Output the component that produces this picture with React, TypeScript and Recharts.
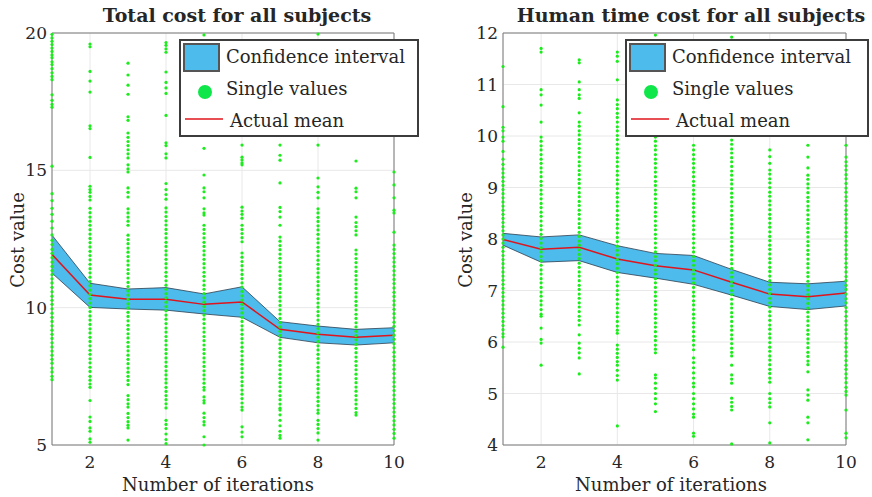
import React from 'react';
import {
  ComposedChart,
  Area,
  Line,
  Scatter,
  XAxis,
  YAxis,
  CartesianGrid,
  ReferenceArea,
} from 'recharts';

const FONT = '"DejaVu Serif", serif';

// iterations on the x axis
const iterations = [1, 2, 3, 4, 5, 6, 7, 8, 9, 10];

// total cost: confidence band + mean
const totalLower = [11.26, 10.01, 9.95, 9.91, 9.77, 9.65, 8.92, 8.72, 8.64, 8.72];
const totalMean = [11.94, 10.46, 10.31, 10.31, 10.12, 10.21, 9.21, 9.03, 8.92, 9.0];
const totalUpper = [12.64, 10.89, 10.68, 10.73, 10.5, 10.76, 9.49, 9.33, 9.21, 9.27];

// human time cost: confidence band + mean
const humanLower = [7.88, 7.55, 7.58, 7.35, 7.24, 7.12, 6.91, 6.69, 6.63, 6.7];
const humanMean = [7.99, 7.8, 7.84, 7.61, 7.48, 7.4, 7.16, 6.93, 6.88, 6.95];
const humanUpper = [8.11, 8.04, 8.08, 7.87, 7.72, 7.68, 7.41, 7.16, 7.13, 7.18];

// single values per iteration (total cost)
const totalSingles = [
  [19.95, 19.82, 19.7, 19.58, 19.45, 19.33, 19.2, 19.1, 18.95, 18.85, 18.7, 18.55, 18.42, 18.3, 17.75, 17.55, 17.4, 17.3, 15.15, 14.15, 13.9, 13.62, 13.4, 13.15, 12.9, 12.65, 12.45, 12.3, 12.12, 11.98, 11.82, 11.66, 11.5, 11.35, 11.2, 11.05, 10.9, 10.74, 10.58, 10.42, 10.27, 10.12, 9.96, 9.8, 9.65, 9.5, 9.34, 9.18, 9.03, 8.88, 8.72, 8.57, 8.42, 8.27, 8.12, 7.98, 7.8, 7.66, 7.5, 7.38],
  [19.6, 19.5, 18.6, 18.25, 17.85, 16.62, 16.52, 15.47, 14.42, 14.3, 14.2, 14.05, 13.92, 13.62, 13.46, 13.3, 13.15, 13.0, 12.84, 12.68, 12.52, 12.37, 12.21, 12.05, 11.9, 11.74, 11.58, 11.42, 11.27, 11.11, 10.95, 10.8, 10.64, 10.48, 10.33, 10.17, 10.01, 9.86, 9.7, 9.55, 9.39, 9.23, 9.08, 8.92, 8.77, 8.61, 8.45, 8.3, 8.14, 7.99, 7.83, 7.68, 7.5, 7.36, 7.22, 7.1, 6.62, 6.02, 5.86, 5.62, 5.5, 5.22, 5.1],
  [18.9, 18.47, 18.1, 17.77, 16.95, 16.82, 16.36, 16.2, 16.05, 15.9, 15.75, 15.6, 15.45, 15.2, 15.05, 14.94, 14.36, 14.2, 14.03, 13.6, 13.45, 13.3, 13.15, 13.0, 12.64, 12.48, 12.33, 12.17, 12.02, 11.86, 11.7, 11.55, 11.39, 11.24, 11.08, 10.92, 10.77, 10.61, 10.46, 10.3, 10.14, 9.99, 9.83, 9.68, 9.52, 9.36, 9.21, 9.05, 8.9, 8.74, 8.58, 8.43, 8.27, 8.12, 7.96, 7.8, 7.65, 7.5, 7.35, 7.2, 6.8, 6.65, 6.5, 6.38, 6.15, 6.0, 5.85, 5.72, 5.62, 5.18],
  [19.65, 19.55, 19.42, 19.3, 18.58, 18.2, 18.0, 17.8, 17.0, 16.0, 15.9, 15.6, 15.45, 14.52, 14.3, 14.12, 13.95, 13.63, 13.48, 13.32, 13.16, 13.01, 12.85, 12.7, 12.54, 12.38, 12.23, 12.07, 11.92, 11.76, 11.6, 11.45, 11.29, 11.14, 10.98, 10.82, 10.67, 10.51, 10.36, 10.2, 10.04, 9.89, 9.73, 9.58, 9.42, 9.26, 9.11, 8.95, 8.8, 8.64, 8.48, 8.33, 8.17, 8.02, 7.86, 7.7, 7.55, 7.4, 7.26, 7.1, 6.95, 6.8, 6.65, 6.5, 6.35, 5.9, 5.75, 5.6, 5.4, 5.2, 5.05],
  [19.93, 15.8, 14.83, 14.36, 14.22, 14.0, 13.6, 13.45, 13.37, 13.0, 12.85, 12.7, 12.54, 12.38, 12.23, 12.07, 11.92, 11.76, 11.6, 11.45, 11.29, 11.14, 10.98, 10.82, 10.67, 10.51, 10.36, 10.2, 10.04, 9.89, 9.73, 9.58, 9.42, 9.26, 9.11, 8.95, 8.8, 8.64, 8.48, 8.33, 8.17, 8.02, 7.86, 7.7, 7.55, 7.4, 7.25, 7.1, 7.0, 6.75, 6.62, 6.53, 6.16, 6.0, 5.85, 5.73, 5.3, 5.0],
  [15.92, 15.48, 15.38, 15.27, 15.2, 13.66, 13.52, 13.4, 13.26, 13.0, 12.85, 12.7, 12.55, 12.4, 11.99, 11.84, 11.68, 11.53, 11.37, 11.21, 11.06, 10.9, 10.75, 10.59, 10.43, 10.28, 10.12, 9.97, 9.81, 9.65, 9.5, 9.34, 9.19, 9.03, 8.87, 8.72, 8.56, 8.41, 8.25, 8.09, 7.94, 7.78, 7.63, 7.47, 7.31, 7.16, 7.0, 6.85, 6.69, 6.53, 6.38, 6.27, 5.66, 5.47, 5.3],
  [15.92, 15.55, 15.37, 14.54, 13.65, 13.5, 13.3, 13.0, 12.57, 12.42, 12.26, 12.11, 11.95, 11.8, 11.64, 11.48, 11.33, 11.17, 11.02, 10.86, 10.7, 10.55, 10.39, 10.24, 10.08, 9.92, 9.77, 9.61, 9.46, 9.3, 9.14, 8.99, 8.83, 8.68, 8.52, 8.36, 8.21, 8.05, 7.9, 7.74, 7.58, 7.43, 7.27, 7.12, 6.96, 6.8, 6.65, 6.49, 6.34, 6.27, 6.1, 5.9, 5.7, 5.5, 5.35, 5.25],
  [19.96, 15.92, 14.72, 14.4, 14.2, 14.0, 13.6, 13.45, 13.29, 13.14, 12.98, 12.83, 12.67, 12.51, 12.36, 12.2, 12.05, 11.89, 11.73, 11.58, 11.42, 11.27, 11.11, 10.95, 10.8, 10.64, 10.49, 10.33, 10.17, 10.02, 9.86, 9.71, 9.55, 9.39, 9.24, 9.08, 8.93, 8.77, 8.61, 8.46, 8.3, 8.15, 7.99, 7.83, 7.68, 7.52, 7.37, 7.21, 7.05, 6.9, 6.74, 6.59, 6.43, 6.27, 6.16, 5.9, 5.75, 5.6, 5.44, 5.18],
  [15.34, 14.35, 14.22, 14.0, 13.3, 13.1, 12.95, 12.8, 12.65, 12.1, 11.95, 11.79, 11.64, 11.48, 11.32, 11.17, 11.01, 10.86, 10.7, 10.54, 10.39, 10.23, 10.08, 9.92, 9.76, 9.61, 9.45, 9.3, 9.14, 8.98, 8.83, 8.67, 8.52, 8.36, 8.2, 8.05, 7.89, 7.74, 7.58, 7.42, 7.27, 7.11, 6.96, 6.8, 6.64, 6.49, 6.33, 6.18, 6.09],
  [14.94, 14.47, 14.0, 13.55, 13.45, 12.75, 12.28, 12.12, 11.97, 11.81, 11.66, 11.5, 11.34, 11.19, 11.03, 10.88, 10.72, 10.56, 10.41, 10.25, 10.1, 9.94, 9.78, 9.63, 9.47, 9.32, 9.16, 9.0, 8.85, 8.69, 8.54, 8.38, 8.22, 8.07, 7.91, 7.76, 7.6, 7.44, 7.29, 7.13, 6.98, 6.82, 6.66, 6.51, 6.35, 6.2, 6.04, 5.88, 5.73, 5.57, 5.42, 5.25],
];

// single values per iteration (human time cost)
const humanSingles = [
  [11.35, 10.57, 10.17, 10.1, 9.98, 9.9, 9.7, 9.55, 9.45, 9.36, 9.28, 9.2, 9.12, 9.04, 8.96, 8.88, 8.8, 8.72, 8.64, 8.56, 8.48, 8.4, 8.32, 8.24, 8.16, 8.08, 8.0, 7.92, 7.84, 7.76, 7.68, 7.6, 7.52, 7.44, 7.36, 7.28, 7.2, 7.12, 7.04, 6.96, 6.88, 6.8, 6.72, 6.64, 6.56, 6.48, 6.4, 6.32, 6.24, 6.16, 6.1, 5.9],
  [11.7, 11.63, 10.9, 10.8, 10.6, 10.27, 9.98, 9.9, 9.81, 9.73, 9.64, 9.55, 9.47, 9.38, 9.3, 9.21, 9.12, 9.04, 8.95, 8.87, 8.78, 8.69, 8.61, 8.52, 8.44, 8.35, 8.26, 8.18, 8.09, 8.01, 7.92, 7.83, 7.75, 7.66, 7.58, 7.49, 7.4, 7.32, 7.23, 7.15, 7.06, 6.97, 6.89, 6.8, 6.72, 6.63, 6.54, 6.5, 6.27, 6.05, 5.98, 5.55],
  [11.48, 11.42, 11.05, 10.9, 10.8, 10.73, 10.45, 10.27, 10.19, 10.1, 10.02, 9.93, 9.85, 9.76, 9.68, 9.59, 9.5, 9.42, 9.33, 9.25, 9.16, 9.08, 8.99, 8.9, 8.82, 8.73, 8.65, 8.56, 8.48, 8.39, 8.3, 8.22, 8.13, 8.05, 7.96, 7.88, 7.79, 7.7, 7.62, 7.53, 7.45, 7.36, 7.28, 7.19, 7.1, 7.02, 6.93, 6.85, 6.76, 6.68, 6.59, 6.5, 6.42, 6.33, 6.14, 5.98, 5.88, 5.79, 5.69, 5.38],
  [11.63, 11.55, 11.45, 11.09, 10.7, 10.61, 10.53, 10.44, 10.36, 10.27, 10.18, 10.1, 10.01, 9.93, 9.84, 9.75, 9.67, 9.58, 9.5, 9.41, 9.32, 9.24, 9.15, 9.07, 8.98, 8.89, 8.81, 8.72, 8.64, 8.55, 8.46, 8.38, 8.29, 8.21, 8.12, 8.03, 7.95, 7.86, 7.78, 7.69, 7.6, 7.52, 7.43, 7.35, 7.26, 7.17, 7.09, 7.0, 6.92, 6.83, 6.74, 6.66, 6.57, 6.49, 6.4, 6.31, 6.23, 6.17, 5.94, 5.86, 5.78, 5.7, 5.62, 5.55, 5.45, 5.35, 5.26, 4.37],
  [11.96, 9.98, 9.9, 9.81, 9.73, 9.64, 9.55, 9.47, 9.38, 9.3, 9.21, 9.12, 9.04, 8.95, 8.87, 8.78, 8.69, 8.61, 8.52, 8.44, 8.35, 8.26, 8.18, 8.09, 8.01, 7.92, 7.83, 7.75, 7.66, 7.58, 7.49, 7.4, 7.32, 7.23, 7.15, 7.06, 6.97, 6.89, 6.8, 6.72, 6.63, 6.54, 6.46, 6.37, 6.29, 6.2, 6.11, 6.03, 5.94, 5.86, 5.79, 5.36, 5.3, 5.2, 5.1, 5.0, 4.9, 4.8, 4.65],
  [9.82, 9.73, 9.64, 9.55, 9.47, 9.38, 9.3, 9.21, 9.12, 9.04, 8.95, 8.87, 8.78, 8.69, 8.61, 8.52, 8.44, 8.35, 8.26, 8.18, 8.09, 8.01, 7.92, 7.83, 7.75, 7.66, 7.58, 7.49, 7.4, 7.32, 7.23, 7.15, 7.06, 6.97, 6.89, 6.8, 6.72, 6.63, 6.54, 6.46, 6.37, 6.29, 6.2, 6.11, 6.03, 5.94, 5.85, 5.69, 5.6, 5.5, 5.4, 5.3, 5.2, 5.13, 5.0, 4.9, 4.8, 4.7, 4.6, 4.54, 4.23, 4.17],
  [11.92, 9.92, 9.84, 9.75, 9.67, 9.58, 9.5, 9.41, 9.32, 9.24, 9.15, 9.07, 8.98, 8.89, 8.81, 8.72, 8.64, 8.55, 8.46, 8.38, 8.29, 8.21, 8.12, 8.03, 7.95, 7.86, 7.78, 7.69, 7.6, 7.52, 7.43, 7.35, 7.26, 7.17, 7.09, 7.0, 6.92, 6.83, 6.74, 6.66, 6.57, 6.49, 6.4, 6.31, 6.23, 6.14, 6.06, 5.97, 5.88, 5.8, 5.73, 5.55, 5.36, 5.28, 5.2, 4.91, 4.83, 4.75, 4.68, 4.02],
  [9.73, 9.6, 9.47, 9.34, 9.26, 9.17, 9.09, 9.0, 8.91, 8.83, 8.74, 8.66, 8.57, 8.48, 8.4, 8.31, 8.23, 8.14, 8.05, 7.97, 7.88, 7.8, 7.71, 7.62, 7.54, 7.45, 7.37, 7.28, 7.19, 7.11, 7.02, 6.94, 6.85, 6.76, 6.68, 6.59, 6.51, 6.42, 6.33, 6.25, 6.16, 6.08, 5.99, 5.9, 5.82, 5.73, 5.65, 5.56, 5.47, 5.39, 5.3, 5.22, 5.0, 4.9, 4.82, 4.74, 4.43, 4.04],
  [9.82, 9.59, 9.38, 9.24, 9.16, 9.07, 8.99, 8.9, 8.81, 8.73, 8.64, 8.56, 8.47, 8.38, 8.3, 8.21, 8.13, 8.04, 7.95, 7.87, 7.78, 7.7, 7.61, 7.52, 7.44, 7.35, 7.27, 7.18, 7.09, 7.01, 6.92, 6.84, 6.75, 6.66, 6.58, 6.49, 6.41, 6.32, 6.23, 6.15, 6.06, 5.98, 5.89, 5.8, 5.72, 5.63, 5.56, 5.42, 5.07, 4.97, 4.87, 4.54, 4.43, 4.1],
  [9.82, 9.59, 9.5, 9.42, 9.34, 9.25, 9.17, 9.08, 8.99, 8.91, 8.82, 8.74, 8.65, 8.56, 8.48, 8.39, 8.31, 8.22, 8.13, 8.05, 7.96, 7.88, 7.79, 7.7, 7.62, 7.53, 7.45, 7.36, 7.27, 7.19, 7.1, 7.02, 6.93, 6.84, 6.76, 6.67, 6.59, 6.5, 6.41, 6.33, 6.24, 6.16, 6.07, 5.98, 5.9, 5.81, 5.73, 5.64, 5.55, 5.47, 5.38, 5.3, 5.21, 5.12, 5.04, 4.97, 4.68, 4.23, 4.14],
];

const xTicks = [2, 4, 6, 8, 10];
const totalTicks = [5, 10, 15, 20];
const humanTicks = [4, 5, 6, 7, 8, 9, 10, 11, 12];

const tickStyle = { fill: '#262626', fontSize: 17, fontFamily: FONT };

const Dot = (props) => <circle cx={props.cx} cy={props.cy} r={1.6} fill="#1bec1b" />;

const Panel = ({ lower, mean, upper, singles, yDomain, yTicks, margin }) => {
  const bandData = iterations.map((it, i) => ({ it, band: [lower[i], upper[i]], mean: mean[i] }));
  const dotData = singles.flatMap((col, i) => col.map((v) => ({ it: iterations[i], v })));

  return (
    <ComposedChart width={436} height={497} data={bandData} margin={margin}>
      <CartesianGrid stroke="#e8e8e8" />
      <XAxis
        dataKey="it"
        type="number"
        domain={[1, 10]}
        ticks={xTicks}
        axisLine={false}
        tickLine={false}
        tickSize={6}
        tickMargin={5}
        height={30}
        tick={tickStyle}
      />
      <YAxis
        type="number"
        domain={yDomain}
        ticks={yTicks}
        axisLine={false}
        tickLine={false}
        tickSize={3}
        tickMargin={2}
        width={45}
        tick={tickStyle}
      />
      <Area
        type="linear"
        dataKey="band"
        fill="#4dbbec"
        fillOpacity={1}
        stroke="#2f3f4f"
        strokeWidth={0.8}
        isAnimationActive={false}
      />
      <Line type="linear" dataKey="mean" stroke="#e0141c" strokeWidth={1.5} dot={false} isAnimationActive={false} />
      <Scatter data={dotData} dataKey="v" shape={Dot} isAnimationActive={false} />
      <ReferenceArea x1={1} x2={10} y1={yDomain[0]} y2={yDomain[1]} fill="none" stroke="#7a7a7a" strokeWidth={1} />
    </ComposedChart>
  );
};

const LegendBox = ({ left, width }) => (
  <div
    style={{
      position: 'absolute',
      left,
      top: 39,
      width,
      height: 98,
      boxSizing: 'border-box',
      border: '2px solid #3c3c3c',
      background: '#fff',
      fontFamily: FONT,
      fontSize: 18,
      color: '#262626',
    }}
  >
    <svg width={width - 4} height={94} style={{ position: 'absolute', left: 0, top: 0 }}>
      <rect x={3} y={3} width={35} height={27} fill="#4dbbec" stroke="#555" strokeWidth={2} />
      <circle cx={24} cy={51} r={7} fill="#0fe64a" />
      <line x1={4} x2={42} y1={78} y2={78} stroke="#e0141c" strokeWidth={1.5} />
    </svg>
    <div style={{ position: 'absolute', left: 45, top: 4, lineHeight: '24px', whiteSpace: 'nowrap' }}>Confidence interval</div>
    <div style={{ position: 'absolute', left: 45, top: 36, lineHeight: '24px', whiteSpace: 'nowrap' }}>Single values</div>
    <div style={{ position: 'absolute', left: 49, top: 68, lineHeight: '24px', whiteSpace: 'nowrap' }}>Actual mean</div>
  </div>
);

const TextAt = ({ cx, cy, children, size = 18, bold = false, rotate = false }) => (
  <div
    style={{
      position: 'absolute',
      left: cx - 200,
      top: cy - 12,
      width: 400,
      height: 24,
      lineHeight: '24px',
      textAlign: 'center',
      whiteSpace: 'nowrap',
      fontFamily: FONT,
      fontSize: size,
      fontWeight: bold ? 'bold' : 'normal',
      color: '#262626',
      transform: rotate ? 'rotate(-90deg)' : undefined,
    }}
  >
    {children}
  </div>
);

export default function App() {
  return (
    <div style={{ position: 'absolute', left: 0, top: 0, width: 872, height: 497, overflow: 'hidden', background: '#fff' }}>
      <div style={{ position: 'absolute', left: 0, top: 0 }}>
        <Panel
          lower={totalLower}
          mean={totalMean}
          upper={totalUpper}
          singles={totalSingles}
          yDomain={[5, 20]}
          yTicks={totalTicks}
          margin={{ top: 33, right: 42, bottom: 22, left: 7 }}
        />
      </div>
      <div style={{ position: 'absolute', left: 436, top: 0 }}>
        <Panel
          lower={humanLower}
          mean={humanMean}
          upper={humanUpper}
          singles={humanSingles}
          yDomain={[4, 12]}
          yTicks={humanTicks}
          margin={{ top: 33, right: 26, bottom: 22, left: 22 }}
        />
      </div>

      <TextAt cx={237} cy={15} size={19} bold>Total cost for all subjects</TextAt>
      <TextAt cx={691} cy={15} size={19} bold>Human time cost for all subjects</TextAt>
      <TextAt cx={18} cy={240} rotate>Cost value</TextAt>
      <TextAt cx={466} cy={240} rotate>Cost value</TextAt>
      <TextAt cx={218} cy={485}>Number of iterations</TextAt>
      <TextAt cx={671} cy={485}>Number of iterations</TextAt>

      <LegendBox left={179} width={240} />
      <LegendBox left={625} width={244} />
    </div>
  );
}
